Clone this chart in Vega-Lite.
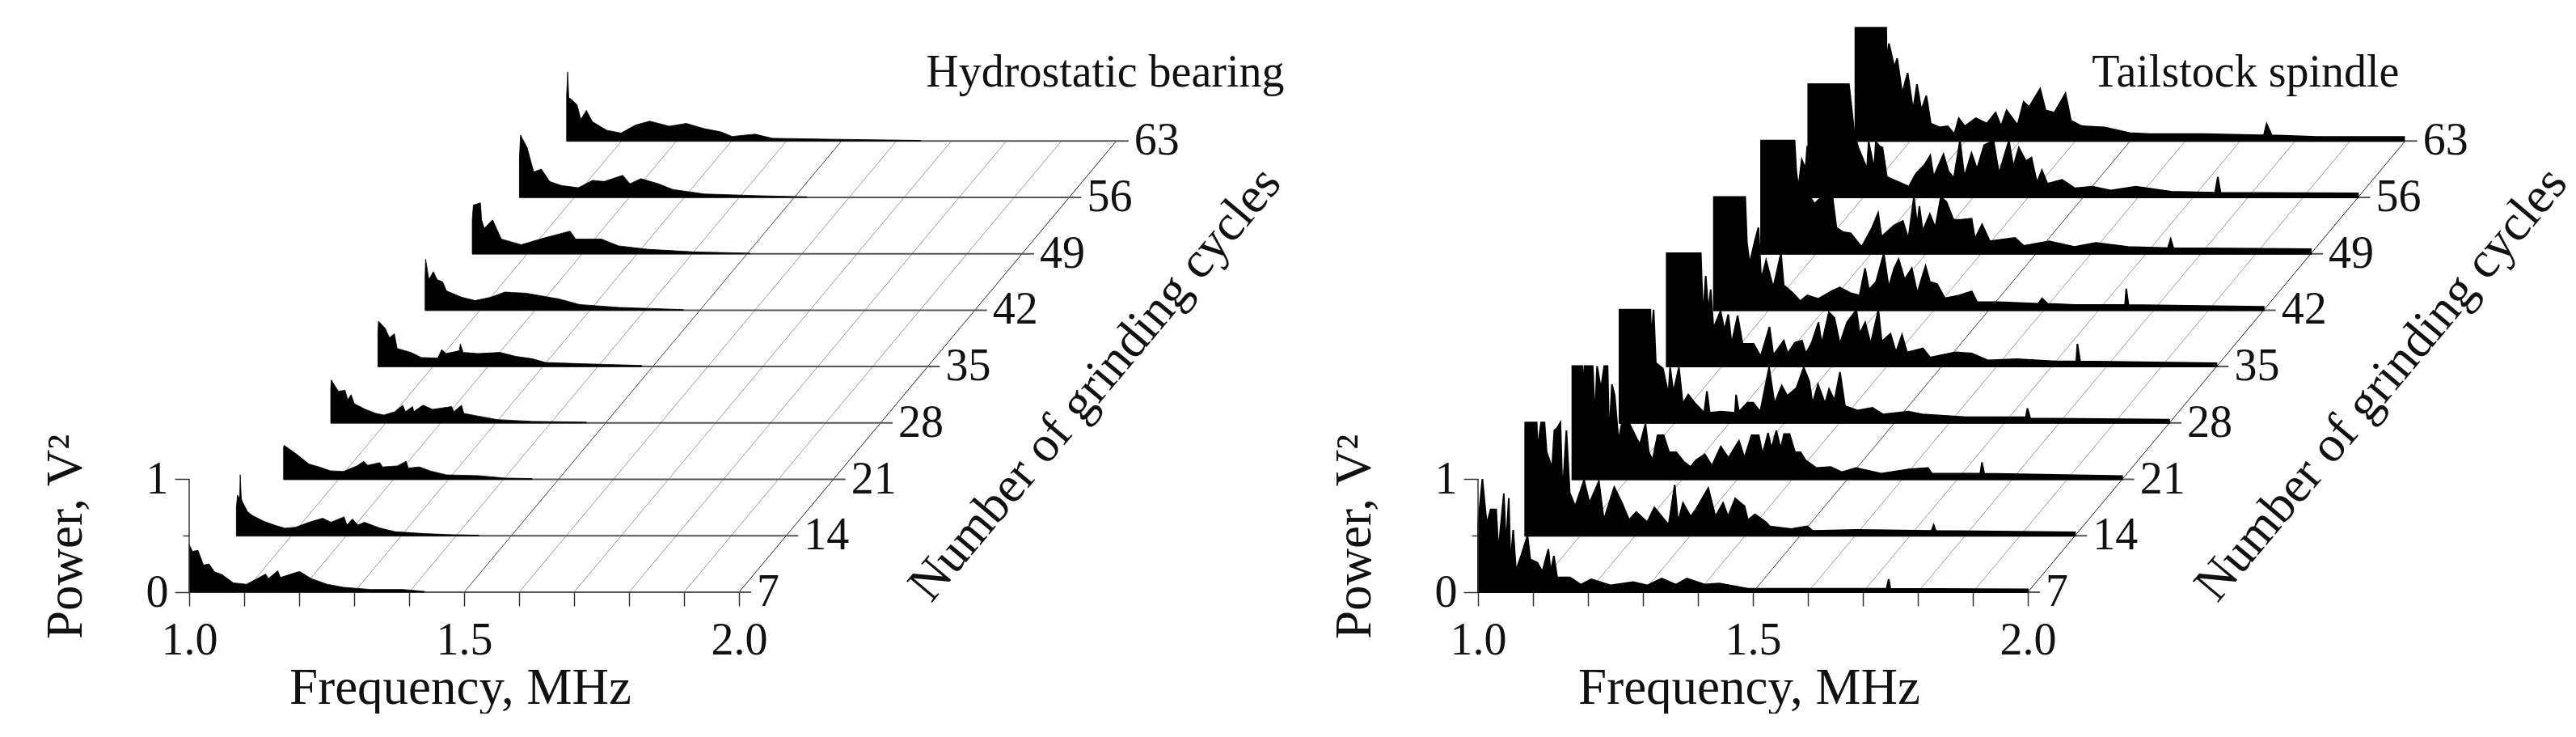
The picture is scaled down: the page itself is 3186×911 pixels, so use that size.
{"$schema":"https://vega.github.io/schema/vega-lite/v6.json","padding":{"left":50,"top":30,"right":0,"bottom":0},"background":"white","bounds":"flush","spacing":0,
"config":{"view":{"stroke":null},"text":{"font":"Liberation Serif","color":"#111"},"axis":{"labelFont":"Liberation Serif","titleFont":"Liberation Serif","labelFontSize":56,"titleFontSize":63,"titleFontWeight":"normal","labelColor":"#111","titleColor":"#111","tickColor":"#333","tickWidth":1.5,"domain":false,"grid":false}},
"datasets":{"spectra":[
{"s":"H","c":63,"f":1.0,"p":0.4},{"s":"H","c":63,"f":1.002,"p":0.61},{"s":"H","c":63,"f":1.004,"p":0.38},{"s":"H","c":63,"f":1.008,"p":0.37},{"s":"H","c":63,"f":1.019,"p":0.32},{"s":"H","c":63,"f":1.026,"p":0.19},{"s":"H","c":63,"f":1.036,"p":0.27},{"s":"H","c":63,"f":1.047,"p":0.17},{"s":"H","c":63,"f":1.073,"p":0.095},{"s":"H","c":63,"f":1.099,"p":0.07},{"s":"H","c":63,"f":1.125,"p":0.14},{"s":"H","c":63,"f":1.151,"p":0.175},{"s":"H","c":63,"f":1.187,"p":0.13},{"s":"H","c":63,"f":1.218,"p":0.155},{"s":"H","c":63,"f":1.249,"p":0.11},{"s":"H","c":63,"f":1.281,"p":0.08},{"s":"H","c":63,"f":1.301,"p":0.04},{"s":"H","c":63,"f":1.343,"p":0.06},{"s":"H","c":63,"f":1.374,"p":0.024},{"s":"H","c":63,"f":1.457,"p":0.017},{"s":"H","c":63,"f":1.644,"p":0.005},
{"s":"H","c":56,"f":1.0,"p":0.35},{"s":"H","c":56,"f":1.002,"p":0.55},{"s":"H","c":56,"f":1.014,"p":0.44},{"s":"H","c":56,"f":1.026,"p":0.225},{"s":"H","c":56,"f":1.04,"p":0.25},{"s":"H","c":56,"f":1.055,"p":0.14},{"s":"H","c":56,"f":1.076,"p":0.105},{"s":"H","c":56,"f":1.107,"p":0.085},{"s":"H","c":56,"f":1.133,"p":0.15},{"s":"H","c":56,"f":1.154,"p":0.14},{"s":"H","c":56,"f":1.188,"p":0.195},{"s":"H","c":56,"f":1.201,"p":0.12},{"s":"H","c":56,"f":1.221,"p":0.165},{"s":"H","c":56,"f":1.253,"p":0.12},{"s":"H","c":56,"f":1.279,"p":0.07},{"s":"H","c":56,"f":1.336,"p":0.03},{"s":"H","c":56,"f":1.44,"p":0.014},{"s":"H","c":56,"f":1.523,"p":0.005},
{"s":"H","c":49,"f":1.0,"p":0.3},{"s":"H","c":49,"f":1.002,"p":0.43},{"s":"H","c":49,"f":1.015,"p":0.45},{"s":"H","c":49,"f":1.017,"p":0.3},{"s":"H","c":49,"f":1.022,"p":0.225},{"s":"H","c":49,"f":1.037,"p":0.3},{"s":"H","c":49,"f":1.053,"p":0.13},{"s":"H","c":49,"f":1.089,"p":0.08},{"s":"H","c":49,"f":1.131,"p":0.14},{"s":"H","c":49,"f":1.178,"p":0.2},{"s":"H","c":49,"f":1.188,"p":0.13},{"s":"H","c":49,"f":1.235,"p":0.13},{"s":"H","c":49,"f":1.266,"p":0.07},{"s":"H","c":49,"f":1.318,"p":0.04},{"s":"H","c":49,"f":1.401,"p":0.017},{"s":"H","c":49,"f":1.505,"p":0.005},
{"s":"H","c":42,"f":1.0,"p":0.3},{"s":"H","c":42,"f":1.001,"p":0.45},{"s":"H","c":42,"f":1.007,"p":0.27},{"s":"H","c":42,"f":1.015,"p":0.34},{"s":"H","c":42,"f":1.022,"p":0.27},{"s":"H","c":42,"f":1.032,"p":0.25},{"s":"H","c":42,"f":1.039,"p":0.17},{"s":"H","c":42,"f":1.066,"p":0.115},{"s":"H","c":42,"f":1.091,"p":0.085},{"s":"H","c":42,"f":1.12,"p":0.115},{"s":"H","c":42,"f":1.145,"p":0.16},{"s":"H","c":42,"f":1.184,"p":0.15},{"s":"H","c":42,"f":1.213,"p":0.125},{"s":"H","c":42,"f":1.243,"p":0.1},{"s":"H","c":42,"f":1.281,"p":0.05},{"s":"H","c":42,"f":1.353,"p":0.024},{"s":"H","c":42,"f":1.47,"p":0.005},
{"s":"H","c":35,"f":1.0,"p":0.3},{"s":"H","c":35,"f":1.001,"p":0.4},{"s":"H","c":35,"f":1.013,"p":0.34},{"s":"H","c":35,"f":1.021,"p":0.255},{"s":"H","c":35,"f":1.03,"p":0.29},{"s":"H","c":35,"f":1.035,"p":0.16},{"s":"H","c":35,"f":1.06,"p":0.125},{"s":"H","c":35,"f":1.079,"p":0.08},{"s":"H","c":35,"f":1.109,"p":0.075},{"s":"H","c":35,"f":1.116,"p":0.15},{"s":"H","c":35,"f":1.124,"p":0.115},{"s":"H","c":35,"f":1.148,"p":0.14},{"s":"H","c":35,"f":1.15,"p":0.2},{"s":"H","c":35,"f":1.155,"p":0.125},{"s":"H","c":35,"f":1.182,"p":0.115},{"s":"H","c":35,"f":1.222,"p":0.125},{"s":"H","c":35,"f":1.251,"p":0.09},{"s":"H","c":35,"f":1.28,"p":0.07},{"s":"H","c":35,"f":1.305,"p":0.036},{"s":"H","c":35,"f":1.378,"p":0.024},{"s":"H","c":35,"f":1.48,"p":0.01},
{"s":"H","c":28,"f":1.0,"p":0.3},{"s":"H","c":28,"f":1.001,"p":0.38},{"s":"H","c":28,"f":1.014,"p":0.28},{"s":"H","c":28,"f":1.026,"p":0.29},{"s":"H","c":28,"f":1.031,"p":0.205},{"s":"H","c":28,"f":1.037,"p":0.25},{"s":"H","c":28,"f":1.043,"p":0.17},{"s":"H","c":28,"f":1.063,"p":0.12},{"s":"H","c":28,"f":1.082,"p":0.085},{"s":"H","c":28,"f":1.097,"p":0.07},{"s":"H","c":28,"f":1.117,"p":0.1},{"s":"H","c":28,"f":1.131,"p":0.157},{"s":"H","c":28,"f":1.136,"p":0.1},{"s":"H","c":28,"f":1.149,"p":0.145},{"s":"H","c":28,"f":1.151,"p":0.1},{"s":"H","c":28,"f":1.168,"p":0.157},{"s":"H","c":28,"f":1.185,"p":0.12},{"s":"H","c":28,"f":1.22,"p":0.145},{"s":"H","c":28,"f":1.224,"p":0.1},{"s":"H","c":28,"f":1.238,"p":0.157},{"s":"H","c":28,"f":1.242,"p":0.085},{"s":"H","c":28,"f":1.269,"p":0.06},{"s":"H","c":28,"f":1.303,"p":0.03},{"s":"H","c":28,"f":1.367,"p":0.014},{"s":"H","c":28,"f":1.465,"p":0.007},
{"s":"H","c":21,"f":1.0,"p":0.28},{"s":"H","c":21,"f":1.001,"p":0.3},{"s":"H","c":21,"f":1.016,"p":0.25},{"s":"H","c":21,"f":1.031,"p":0.195},{"s":"H","c":21,"f":1.046,"p":0.136},{"s":"H","c":21,"f":1.065,"p":0.11},{"s":"H","c":21,"f":1.085,"p":0.076},{"s":"H","c":21,"f":1.109,"p":0.07},{"s":"H","c":21,"f":1.134,"p":0.12},{"s":"H","c":21,"f":1.146,"p":0.16},{"s":"H","c":21,"f":1.153,"p":0.124},{"s":"H","c":21,"f":1.175,"p":0.148},{"s":"H","c":21,"f":1.18,"p":0.11},{"s":"H","c":21,"f":1.207,"p":0.119},{"s":"H","c":21,"f":1.223,"p":0.16},{"s":"H","c":21,"f":1.227,"p":0.1},{"s":"H","c":21,"f":1.247,"p":0.11},{"s":"H","c":21,"f":1.266,"p":0.076},{"s":"H","c":21,"f":1.296,"p":0.04},{"s":"H","c":21,"f":1.354,"p":0.033},{"s":"H","c":21,"f":1.403,"p":0.012},{"s":"H","c":21,"f":1.452,"p":0.007},
{"s":"H","c":14,"f":1.0,"p":0.25},{"s":"H","c":14,"f":1.002,"p":0.36},{"s":"H","c":14,"f":1.006,"p":0.33},{"s":"H","c":14,"f":1.007,"p":0.54},{"s":"H","c":14,"f":1.009,"p":0.33},{"s":"H","c":14,"f":1.011,"p":0.3},{"s":"H","c":14,"f":1.02,"p":0.214},{"s":"H","c":14,"f":1.029,"p":0.18},{"s":"H","c":14,"f":1.049,"p":0.13},{"s":"H","c":14,"f":1.069,"p":0.095},{"s":"H","c":14,"f":1.088,"p":0.067},{"s":"H","c":14,"f":1.108,"p":0.076},{"s":"H","c":14,"f":1.132,"p":0.119},{"s":"H","c":14,"f":1.157,"p":0.155},{"s":"H","c":14,"f":1.172,"p":0.12},{"s":"H","c":14,"f":1.196,"p":0.167},{"s":"H","c":14,"f":1.201,"p":0.095},{"s":"H","c":14,"f":1.211,"p":0.148},{"s":"H","c":14,"f":1.221,"p":0.095},{"s":"H","c":14,"f":1.233,"p":0.119},{"s":"H","c":14,"f":1.26,"p":0.07},{"s":"H","c":14,"f":1.289,"p":0.036},{"s":"H","c":14,"f":1.343,"p":0.019},{"s":"H","c":14,"f":1.392,"p":0.01},{"s":"H","c":14,"f":1.441,"p":0.005},
{"s":"H","c":7,"f":1.0,"p":0.42},{"s":"H","c":7,"f":1.006,"p":0.36},{"s":"H","c":7,"f":1.016,"p":0.37},{"s":"H","c":7,"f":1.026,"p":0.24},{"s":"H","c":7,"f":1.036,"p":0.25},{"s":"H","c":7,"f":1.046,"p":0.18},{"s":"H","c":7,"f":1.06,"p":0.155},{"s":"H","c":7,"f":1.08,"p":0.083},{"s":"H","c":7,"f":1.104,"p":0.07},{"s":"H","c":7,"f":1.119,"p":0.107},{"s":"H","c":7,"f":1.139,"p":0.16},{"s":"H","c":7,"f":1.144,"p":0.12},{"s":"H","c":7,"f":1.161,"p":0.19},{"s":"H","c":7,"f":1.166,"p":0.13},{"s":"H","c":7,"f":1.198,"p":0.18},{"s":"H","c":7,"f":1.202,"p":0.18},{"s":"H","c":7,"f":1.222,"p":0.12},{"s":"H","c":7,"f":1.251,"p":0.07},{"s":"H","c":7,"f":1.281,"p":0.043},{"s":"H","c":7,"f":1.33,"p":0.024},{"s":"H","c":7,"f":1.389,"p":0.024},{"s":"H","c":7,"f":1.428,"p":0.007},
{"s":"T","c":63,"f":1.0,"p":1},{"s":"T","c":63,"f":1.056,"p":1},{"s":"T","c":63,"f":1.057,"p":0.7},{"s":"T","c":63,"f":1.061,"p":0.86},{"s":"T","c":63,"f":1.071,"p":0.65},{"s":"T","c":63,"f":1.076,"p":0.73},{"s":"T","c":63,"f":1.085,"p":0.42},{"s":"T","c":63,"f":1.095,"p":0.6},{"s":"T","c":63,"f":1.105,"p":0.27},{"s":"T","c":63,"f":1.112,"p":0.5},{"s":"T","c":63,"f":1.12,"p":0.27},{"s":"T","c":63,"f":1.129,"p":0.4},{"s":"T","c":63,"f":1.137,"p":0.155},{"s":"T","c":63,"f":1.153,"p":0.12},{"s":"T","c":63,"f":1.168,"p":0.13},{"s":"T","c":63,"f":1.18,"p":0.06},{"s":"T","c":63,"f":1.188,"p":0.2},{"s":"T","c":63,"f":1.199,"p":0.13},{"s":"T","c":63,"f":1.219,"p":0.2},{"s":"T","c":63,"f":1.239,"p":0.155},{"s":"T","c":63,"f":1.255,"p":0.25},{"s":"T","c":63,"f":1.265,"p":0.13},{"s":"T","c":63,"f":1.275,"p":0.27},{"s":"T","c":63,"f":1.295,"p":0.14},{"s":"T","c":63,"f":1.306,"p":0.345},{"s":"T","c":63,"f":1.316,"p":0.3},{"s":"T","c":63,"f":1.336,"p":0.46},{"s":"T","c":63,"f":1.346,"p":0.27},{"s":"T","c":63,"f":1.362,"p":0.25},{"s":"T","c":63,"f":1.382,"p":0.42},{"s":"T","c":63,"f":1.392,"p":0.18},{"s":"T","c":63,"f":1.412,"p":0.13},{"s":"T","c":63,"f":1.453,"p":0.12},{"s":"T","c":63,"f":1.499,"p":0.07},{"s":"T","c":63,"f":1.535,"p":0.06},{"s":"T","c":63,"f":1.636,"p":0.06},{"s":"T","c":63,"f":1.743,"p":0.05},{"s":"T","c":63,"f":1.748,"p":0.15},{"s":"T","c":63,"f":1.757,"p":0.05},{"s":"T","c":63,"f":1.84,"p":0.036},{"s":"T","c":63,"f":1.998,"p":0.036},
{"s":"T","c":56,"f":1.0,"p":1},{"s":"T","c":56,"f":1.074,"p":1},{"s":"T","c":56,"f":1.084,"p":0.56},{"s":"T","c":56,"f":1.091,"p":0.44},{"s":"T","c":56,"f":1.107,"p":0.25},{"s":"T","c":56,"f":1.11,"p":0.49},{"s":"T","c":56,"f":1.12,"p":0.25},{"s":"T","c":56,"f":1.123,"p":0.49},{"s":"T","c":56,"f":1.13,"p":0.45},{"s":"T","c":56,"f":1.135,"p":0.44},{"s":"T","c":56,"f":1.143,"p":0.18},{"s":"T","c":56,"f":1.183,"p":0.095},{"s":"T","c":56,"f":1.196,"p":0.21},{"s":"T","c":56,"f":1.212,"p":0.29},{"s":"T","c":56,"f":1.222,"p":0.37},{"s":"T","c":56,"f":1.228,"p":0.18},{"s":"T","c":56,"f":1.246,"p":0.38},{"s":"T","c":56,"f":1.255,"p":0.23},{"s":"T","c":56,"f":1.265,"p":0.17},{"s":"T","c":56,"f":1.276,"p":0.5},{"s":"T","c":56,"f":1.284,"p":0.18},{"s":"T","c":56,"f":1.297,"p":0.39},{"s":"T","c":56,"f":1.307,"p":0.25},{"s":"T","c":56,"f":1.32,"p":0.46},{"s":"T","c":56,"f":1.337,"p":0.5},{"s":"T","c":56,"f":1.347,"p":0.21},{"s":"T","c":56,"f":1.36,"p":0.42},{"s":"T","c":56,"f":1.365,"p":0.5},{"s":"T","c":56,"f":1.373,"p":0.27},{"s":"T","c":56,"f":1.383,"p":0.44},{"s":"T","c":56,"f":1.396,"p":0.32},{"s":"T","c":56,"f":1.406,"p":0.35},{"s":"T","c":56,"f":1.416,"p":0.13},{"s":"T","c":56,"f":1.425,"p":0.24},{"s":"T","c":56,"f":1.435,"p":0.12},{"s":"T","c":56,"f":1.462,"p":0.155},{"s":"T","c":56,"f":1.485,"p":0.08},{"s":"T","c":56,"f":1.517,"p":0.095},{"s":"T","c":56,"f":1.55,"p":0.06},{"s":"T","c":56,"f":1.596,"p":0.095},{"s":"T","c":56,"f":1.66,"p":0.05},{"s":"T","c":56,"f":1.74,"p":0.04},{"s":"T","c":56,"f":1.745,"p":0.18},{"s":"T","c":56,"f":1.75,"p":0.04},{"s":"T","c":56,"f":2.0,"p":0.035},
{"s":"T","c":49,"f":1.0,"p":1},{"s":"T","c":49,"f":1.059,"p":1},{"s":"T","c":49,"f":1.061,"p":1},{"s":"T","c":49,"f":1.064,"p":0.73},{"s":"T","c":49,"f":1.068,"p":0.58},{"s":"T","c":49,"f":1.074,"p":0.83},{"s":"T","c":49,"f":1.081,"p":0.75},{"s":"T","c":49,"f":1.084,"p":0.95},{"s":"T","c":49,"f":1.091,"p":0.49},{"s":"T","c":49,"f":1.097,"p":0.44},{"s":"T","c":49,"f":1.11,"p":0.5},{"s":"T","c":49,"f":1.13,"p":0.5},{"s":"T","c":49,"f":1.137,"p":0.23},{"s":"T","c":49,"f":1.15,"p":0.19},{"s":"T","c":49,"f":1.163,"p":0.18},{"s":"T","c":49,"f":1.183,"p":0.06},{"s":"T","c":49,"f":1.202,"p":0.23},{"s":"T","c":49,"f":1.213,"p":0.36},{"s":"T","c":49,"f":1.219,"p":0.15},{"s":"T","c":49,"f":1.242,"p":0.25},{"s":"T","c":49,"f":1.258,"p":0.29},{"s":"T","c":49,"f":1.268,"p":0.13},{"s":"T","c":49,"f":1.278,"p":0.5},{"s":"T","c":49,"f":1.284,"p":0.25},{"s":"T","c":49,"f":1.288,"p":0.42},{"s":"T","c":49,"f":1.294,"p":0.2},{"s":"T","c":49,"f":1.307,"p":0.35},{"s":"T","c":49,"f":1.317,"p":0.23},{"s":"T","c":49,"f":1.327,"p":0.5},{"s":"T","c":49,"f":1.337,"p":0.46},{"s":"T","c":49,"f":1.35,"p":0.3},{"s":"T","c":49,"f":1.363,"p":0.3},{"s":"T","c":49,"f":1.383,"p":0.31},{"s":"T","c":49,"f":1.389,"p":0.13},{"s":"T","c":49,"f":1.402,"p":0.26},{"s":"T","c":49,"f":1.416,"p":0.11},{"s":"T","c":49,"f":1.462,"p":0.14},{"s":"T","c":49,"f":1.478,"p":0.07},{"s":"T","c":49,"f":1.524,"p":0.11},{"s":"T","c":49,"f":1.57,"p":0.06},{"s":"T","c":49,"f":1.609,"p":0.095},{"s":"T","c":49,"f":1.668,"p":0.06},{"s":"T","c":49,"f":1.74,"p":0.05},{"s":"T","c":49,"f":1.745,"p":0.13},{"s":"T","c":49,"f":1.75,"p":0.05},{"s":"T","c":49,"f":2.0,"p":0.04},
{"s":"T","c":42,"f":1.0,"p":1},{"s":"T","c":42,"f":1.057,"p":1},{"s":"T","c":42,"f":1.06,"p":0.6},{"s":"T","c":42,"f":1.065,"p":0.41},{"s":"T","c":42,"f":1.075,"p":0.62},{"s":"T","c":42,"f":1.081,"p":0.73},{"s":"T","c":42,"f":1.086,"p":0.27},{"s":"T","c":42,"f":1.095,"p":0.44},{"s":"T","c":42,"f":1.108,"p":0.2},{"s":"T","c":42,"f":1.122,"p":0.5},{"s":"T","c":42,"f":1.127,"p":0.22},{"s":"T","c":42,"f":1.144,"p":0.15},{"s":"T","c":42,"f":1.157,"p":0.08},{"s":"T","c":42,"f":1.17,"p":0.13},{"s":"T","c":42,"f":1.19,"p":0.1},{"s":"T","c":42,"f":1.213,"p":0.165},{"s":"T","c":42,"f":1.229,"p":0.2},{"s":"T","c":42,"f":1.249,"p":0.15},{"s":"T","c":42,"f":1.265,"p":0.13},{"s":"T","c":42,"f":1.275,"p":0.37},{"s":"T","c":42,"f":1.282,"p":0.18},{"s":"T","c":42,"f":1.295,"p":0.25},{"s":"T","c":42,"f":1.309,"p":0.5},{"s":"T","c":42,"f":1.318,"p":0.2},{"s":"T","c":42,"f":1.328,"p":0.37},{"s":"T","c":42,"f":1.336,"p":0.45},{"s":"T","c":42,"f":1.347,"p":0.27},{"s":"T","c":42,"f":1.36,"p":0.37},{"s":"T","c":42,"f":1.37,"p":0.15},{"s":"T","c":42,"f":1.385,"p":0.39},{"s":"T","c":42,"f":1.393,"p":0.25},{"s":"T","c":42,"f":1.406,"p":0.23},{"s":"T","c":42,"f":1.42,"p":0.105},{"s":"T","c":42,"f":1.446,"p":0.13},{"s":"T","c":42,"f":1.469,"p":0.165},{"s":"T","c":42,"f":1.479,"p":0.07},{"s":"T","c":42,"f":1.518,"p":0.07},{"s":"T","c":42,"f":1.59,"p":0.057},{"s":"T","c":42,"f":1.597,"p":0.105},{"s":"T","c":42,"f":1.607,"p":0.057},{"s":"T","c":42,"f":1.656,"p":0.045},{"s":"T","c":42,"f":1.748,"p":0.045},{"s":"T","c":42,"f":1.75,"p":0.19},{"s":"T","c":42,"f":1.754,"p":0.045},{"s":"T","c":42,"f":2.0,"p":0.03},
{"s":"T","c":35,"f":1.0,"p":1},{"s":"T","c":35,"f":1.062,"p":1},{"s":"T","c":35,"f":1.066,"p":0.44},{"s":"T","c":35,"f":1.071,"p":0.8},{"s":"T","c":35,"f":1.076,"p":0.48},{"s":"T","c":35,"f":1.08,"p":0.68},{"s":"T","c":35,"f":1.085,"p":0.34},{"s":"T","c":35,"f":1.098,"p":0.49},{"s":"T","c":35,"f":1.105,"p":0.32},{"s":"T","c":35,"f":1.112,"p":0.46},{"s":"T","c":35,"f":1.118,"p":0.2},{"s":"T","c":35,"f":1.129,"p":0.45},{"s":"T","c":35,"f":1.138,"p":0.2},{"s":"T","c":35,"f":1.158,"p":0.2},{"s":"T","c":35,"f":1.171,"p":0.09},{"s":"T","c":35,"f":1.187,"p":0.35},{"s":"T","c":35,"f":1.194,"p":0.1},{"s":"T","c":35,"f":1.213,"p":0.23},{"s":"T","c":35,"f":1.22,"p":0.115},{"s":"T","c":35,"f":1.233,"p":0.21},{"s":"T","c":35,"f":1.246,"p":0.23},{"s":"T","c":35,"f":1.253,"p":0.115},{"s":"T","c":35,"f":1.263,"p":0.2},{"s":"T","c":35,"f":1.276,"p":0.39},{"s":"T","c":35,"f":1.282,"p":0.2},{"s":"T","c":35,"f":1.295,"p":0.48},{"s":"T","c":35,"f":1.305,"p":0.43},{"s":"T","c":35,"f":1.315,"p":0.2},{"s":"T","c":35,"f":1.328,"p":0.39},{"s":"T","c":35,"f":1.345,"p":0.5},{"s":"T","c":35,"f":1.351,"p":0.29},{"s":"T","c":35,"f":1.361,"p":0.39},{"s":"T","c":35,"f":1.371,"p":0.2},{"s":"T","c":35,"f":1.385,"p":0.5},{"s":"T","c":35,"f":1.391,"p":0.22},{"s":"T","c":35,"f":1.407,"p":0.29},{"s":"T","c":35,"f":1.417,"p":0.125},{"s":"T","c":35,"f":1.428,"p":0.28},{"s":"T","c":35,"f":1.437,"p":0.125},{"s":"T","c":35,"f":1.466,"p":0.16},{"s":"T","c":35,"f":1.479,"p":0.08},{"s":"T","c":35,"f":1.525,"p":0.125},{"s":"T","c":35,"f":1.555,"p":0.115},{"s":"T","c":35,"f":1.584,"p":0.055},{"s":"T","c":35,"f":1.637,"p":0.065},{"s":"T","c":35,"f":1.709,"p":0.045},{"s":"T","c":35,"f":1.745,"p":0.045},{"s":"T","c":35,"f":1.747,"p":0.2},{"s":"T","c":35,"f":1.752,"p":0.045},{"s":"T","c":35,"f":2.0,"p":0.03},
{"s":"T","c":28,"f":1.0,"p":1},{"s":"T","c":28,"f":1.056,"p":1},{"s":"T","c":28,"f":1.058,"p":0.75},{"s":"T","c":28,"f":1.062,"p":1},{"s":"T","c":28,"f":1.066,"p":0.53},{"s":"T","c":28,"f":1.079,"p":0.48},{"s":"T","c":28,"f":1.089,"p":0.25},{"s":"T","c":28,"f":1.092,"p":0.49},{"s":"T","c":28,"f":1.098,"p":0.27},{"s":"T","c":28,"f":1.108,"p":0.49},{"s":"T","c":28,"f":1.115,"p":0.17},{"s":"T","c":28,"f":1.125,"p":0.25},{"s":"T","c":28,"f":1.138,"p":0.17},{"s":"T","c":28,"f":1.154,"p":0.09},{"s":"T","c":28,"f":1.159,"p":0.28},{"s":"T","c":28,"f":1.164,"p":0.09},{"s":"T","c":28,"f":1.184,"p":0.1},{"s":"T","c":28,"f":1.21,"p":0.09},{"s":"T","c":28,"f":1.212,"p":0.25},{"s":"T","c":28,"f":1.217,"p":0.1},{"s":"T","c":28,"f":1.233,"p":0.18},{"s":"T","c":28,"f":1.243,"p":0.18},{"s":"T","c":28,"f":1.256,"p":0.1},{"s":"T","c":28,"f":1.272,"p":0.49},{"s":"T","c":28,"f":1.282,"p":0.17},{"s":"T","c":28,"f":1.295,"p":0.33},{"s":"T","c":28,"f":1.305,"p":0.24},{"s":"T","c":28,"f":1.322,"p":0.31},{"s":"T","c":28,"f":1.335,"p":0.49},{"s":"T","c":28,"f":1.345,"p":0.37},{"s":"T","c":28,"f":1.351,"p":0.17},{"s":"T","c":28,"f":1.361,"p":0.34},{"s":"T","c":28,"f":1.374,"p":0.17},{"s":"T","c":28,"f":1.381,"p":0.3},{"s":"T","c":28,"f":1.391,"p":0.2},{"s":"T","c":28,"f":1.401,"p":0.45},{"s":"T","c":28,"f":1.41,"p":0.15},{"s":"T","c":28,"f":1.433,"p":0.11},{"s":"T","c":28,"f":1.46,"p":0.135},{"s":"T","c":28,"f":1.479,"p":0.076},{"s":"T","c":28,"f":1.525,"p":0.1},{"s":"T","c":28,"f":1.551,"p":0.076},{"s":"T","c":28,"f":1.63,"p":0.05},{"s":"T","c":28,"f":1.739,"p":0.05},{"s":"T","c":28,"f":1.742,"p":0.13},{"s":"T","c":28,"f":1.747,"p":0.04},{"s":"T","c":28,"f":2.0,"p":0.03},
{"s":"T","c":21,"f":1.0,"p":1},{"s":"T","c":21,"f":1.018,"p":1},{"s":"T","c":21,"f":1.02,"p":0.79},{"s":"T","c":21,"f":1.022,"p":1},{"s":"T","c":21,"f":1.037,"p":1},{"s":"T","c":21,"f":1.041,"p":0.53},{"s":"T","c":21,"f":1.045,"p":1},{"s":"T","c":21,"f":1.052,"p":0.8},{"s":"T","c":21,"f":1.058,"p":1},{"s":"T","c":21,"f":1.064,"p":1},{"s":"T","c":21,"f":1.067,"p":0.35},{"s":"T","c":21,"f":1.072,"p":0.84},{"s":"T","c":21,"f":1.077,"p":0.74},{"s":"T","c":21,"f":1.084,"p":0.34},{"s":"T","c":21,"f":1.094,"p":0.6},{"s":"T","c":21,"f":1.103,"p":0.5},{"s":"T","c":21,"f":1.117,"p":0.36},{"s":"T","c":21,"f":1.123,"p":0.31},{"s":"T","c":21,"f":1.133,"p":0.49},{"s":"T","c":21,"f":1.139,"p":0.24},{"s":"T","c":21,"f":1.146,"p":0.17},{"s":"T","c":21,"f":1.155,"p":0.39},{"s":"T","c":21,"f":1.166,"p":0.39},{"s":"T","c":21,"f":1.176,"p":0.24},{"s":"T","c":21,"f":1.189,"p":0.24},{"s":"T","c":21,"f":1.202,"p":0.16},{"s":"T","c":21,"f":1.215,"p":0.11},{"s":"T","c":21,"f":1.225,"p":0.17},{"s":"T","c":21,"f":1.241,"p":0.22},{"s":"T","c":21,"f":1.254,"p":0.12},{"s":"T","c":21,"f":1.27,"p":0.29},{"s":"T","c":21,"f":1.284,"p":0.19},{"s":"T","c":21,"f":1.303,"p":0.34},{"s":"T","c":21,"f":1.313,"p":0.19},{"s":"T","c":21,"f":1.326,"p":0.39},{"s":"T","c":21,"f":1.339,"p":0.39},{"s":"T","c":21,"f":1.346,"p":0.22},{"s":"T","c":21,"f":1.356,"p":0.41},{"s":"T","c":21,"f":1.362,"p":0.27},{"s":"T","c":21,"f":1.371,"p":0.43},{"s":"T","c":21,"f":1.379,"p":0.27},{"s":"T","c":21,"f":1.385,"p":0.4},{"s":"T","c":21,"f":1.395,"p":0.4},{"s":"T","c":21,"f":1.405,"p":0.24},{"s":"T","c":21,"f":1.415,"p":0.24},{"s":"T","c":21,"f":1.424,"p":0.17},{"s":"T","c":21,"f":1.444,"p":0.1},{"s":"T","c":21,"f":1.47,"p":0.11},{"s":"T","c":21,"f":1.49,"p":0.064},{"s":"T","c":21,"f":1.516,"p":0.1},{"s":"T","c":21,"f":1.562,"p":0.05},{"s":"T","c":21,"f":1.614,"p":0.09},{"s":"T","c":21,"f":1.647,"p":0.1},{"s":"T","c":21,"f":1.654,"p":0.05},{"s":"T","c":21,"f":1.742,"p":0.05},{"s":"T","c":21,"f":1.745,"p":0.15},{"s":"T","c":21,"f":1.749,"p":0.05},{"s":"T","c":21,"f":2.0,"p":0.03},
{"s":"T","c":14,"f":1.0,"p":1},{"s":"T","c":14,"f":1.021,"p":1},{"s":"T","c":14,"f":1.022,"p":0.76},{"s":"T","c":14,"f":1.029,"p":1},{"s":"T","c":14,"f":1.035,"p":1},{"s":"T","c":14,"f":1.039,"p":0.74},{"s":"T","c":14,"f":1.044,"p":0.67},{"s":"T","c":14,"f":1.049,"p":0.6},{"s":"T","c":14,"f":1.053,"p":0.93},{"s":"T","c":14,"f":1.058,"p":0.95},{"s":"T","c":14,"f":1.064,"p":1},{"s":"T","c":14,"f":1.068,"p":0.36},{"s":"T","c":14,"f":1.075,"p":0.93},{"s":"T","c":14,"f":1.081,"p":0.38},{"s":"T","c":14,"f":1.091,"p":0.26},{"s":"T","c":14,"f":1.107,"p":0.49},{"s":"T","c":14,"f":1.117,"p":0.29},{"s":"T","c":14,"f":1.134,"p":0.48},{"s":"T","c":14,"f":1.143,"p":0.14},{"s":"T","c":14,"f":1.162,"p":0.43},{"s":"T","c":14,"f":1.176,"p":0.29},{"s":"T","c":14,"f":1.189,"p":0.14},{"s":"T","c":14,"f":1.202,"p":0.21},{"s":"T","c":14,"f":1.222,"p":0.12},{"s":"T","c":14,"f":1.235,"p":0.25},{"s":"T","c":14,"f":1.261,"p":0.095},{"s":"T","c":14,"f":1.272,"p":0.45},{"s":"T","c":14,"f":1.278,"p":0.12},{"s":"T","c":14,"f":1.287,"p":0.29},{"s":"T","c":14,"f":1.301,"p":0.17},{"s":"T","c":14,"f":1.31,"p":0.23},{"s":"T","c":14,"f":1.333,"p":0.42},{"s":"T","c":14,"f":1.346,"p":0.17},{"s":"T","c":14,"f":1.36,"p":0.29},{"s":"T","c":14,"f":1.369,"p":0.17},{"s":"T","c":14,"f":1.382,"p":0.33},{"s":"T","c":14,"f":1.399,"p":0.26},{"s":"T","c":14,"f":1.405,"p":0.14},{"s":"T","c":14,"f":1.418,"p":0.19},{"s":"T","c":14,"f":1.438,"p":0.12},{"s":"T","c":14,"f":1.445,"p":0.083},{"s":"T","c":14,"f":1.484,"p":0.06},{"s":"T","c":14,"f":1.513,"p":0.083},{"s":"T","c":14,"f":1.523,"p":0.043},{"s":"T","c":14,"f":1.602,"p":0.052},{"s":"T","c":14,"f":1.739,"p":0.043},{"s":"T","c":14,"f":1.743,"p":0.095},{"s":"T","c":14,"f":1.747,"p":0.043},{"s":"T","c":14,"f":2.0,"p":0.03},
{"s":"T","c":7,"f":1.0,"p":0.6},{"s":"T","c":7,"f":1.008,"p":1},{"s":"T","c":7,"f":1.012,"p":0.79},{"s":"T","c":7,"f":1.016,"p":0.6},{"s":"T","c":7,"f":1.023,"p":0.73},{"s":"T","c":7,"f":1.033,"p":0.73},{"s":"T","c":7,"f":1.037,"p":0.36},{"s":"T","c":7,"f":1.047,"p":0.87},{"s":"T","c":7,"f":1.051,"p":0.4},{"s":"T","c":7,"f":1.056,"p":0.83},{"s":"T","c":7,"f":1.059,"p":0.24},{"s":"T","c":7,"f":1.064,"p":0.55},{"s":"T","c":7,"f":1.069,"p":0.19},{"s":"T","c":7,"f":1.079,"p":0.33},{"s":"T","c":7,"f":1.09,"p":0.5},{"s":"T","c":7,"f":1.095,"p":0.29},{"s":"T","c":7,"f":1.108,"p":0.26},{"s":"T","c":7,"f":1.117,"p":0.18},{"s":"T","c":7,"f":1.128,"p":0.38},{"s":"T","c":7,"f":1.132,"p":0.18},{"s":"T","c":7,"f":1.138,"p":0.32},{"s":"T","c":7,"f":1.144,"p":0.13},{"s":"T","c":7,"f":1.167,"p":0.13},{"s":"T","c":7,"f":1.187,"p":0.067},{"s":"T","c":7,"f":1.206,"p":0.114},{"s":"T","c":7,"f":1.242,"p":0.06},{"s":"T","c":7,"f":1.282,"p":0.09},{"s":"T","c":7,"f":1.308,"p":0.06},{"s":"T","c":7,"f":1.334,"p":0.12},{"s":"T","c":7,"f":1.36,"p":0.067},{"s":"T","c":7,"f":1.38,"p":0.12},{"s":"T","c":7,"f":1.413,"p":0.067},{"s":"T","c":7,"f":1.439,"p":0.076},{"s":"T","c":7,"f":1.491,"p":0.03},{"s":"T","c":7,"f":1.622,"p":0.03},{"s":"T","c":7,"f":1.743,"p":0.03},{"s":"T","c":7,"f":1.747,"p":0.114},{"s":"T","c":7,"f":1.75,"p":0.03},{"s":"T","c":7,"f":2.0,"p":0.025}
],
"grid":[{"f":1.1,"c":7},{"f":1.1,"c":63},{"f":1.2,"c":7},{"f":1.2,"c":63},{"f":1.3,"c":7},{"f":1.3,"c":63},{"f":1.4,"c":7},{"f":1.4,"c":63},{"f":1.5,"c":7},{"f":1.5,"c":63},{"f":1.6,"c":7},{"f":1.6,"c":63},{"f":1.7,"c":7},{"f":1.7,"c":63},{"f":1.8,"c":7},{"f":1.8,"c":63},{"f":1.9,"c":7},{"f":1.9,"c":63},{"f":2.0,"c":7},{"f":2.0,"c":63}],
"base":[{"c":7,"f":1.0},{"c":7,"f":2.022},{"c":14,"f":1.0},{"c":14,"f":2.022},{"c":21,"f":1.0},{"c":21,"f":2.022},{"c":28,"f":1.0},{"c":28,"f":2.022},{"c":35,"f":1.0},{"c":35,"f":2.022},{"c":42,"f":1.0},{"c":42,"f":2.022},{"c":49,"f":1.0},{"c":49,"f":2.022},{"c":56,"f":1.0},{"c":56,"f":2.022},{"c":63,"f":1.0},{"c":63,"f":2.022}],
"cyc":[{"c":7},{"c":14},{"c":21},{"c":28},{"c":35},{"c":42},{"c":49},{"c":56},{"c":63}]},
"hconcat":[
{"width":1594,"height":700,"layer":[
{"data":{"name":"grid"},"transform":[{"calculate":"datum.f+(datum.c-7)/7*0.0858","as":"X"},{"calculate":"(datum.c-7)/7*0.498","as":"Y"}],"mark":{"type":"line","strokeWidth":1},"encoding":{"x":{"field":"X","type":"quantitative","scale":{"domain":[1,3.34412],"nice":false,"zero":false},"axis":{"values":[1,1.1,1.2,1.3,1.4,1.5,1.6,1.7,1.8,1.9,2],"tickSize":17,"labelPadding":15,"title":"Frequency, MHz","titleX":335,"titleY":118,"titleBaseline":"middle","labelExpr":"(datum.value==1||datum.value==1.5||datum.value==2)?format(datum.value,'.1f'):''","labelOverlap":false,"labelBound":false,"labelFlush":false}},"y":{"field":"Y","type":"quantitative","scale":{"domain":[0,5],"nice":false},"axis":{"values":[0,0.5,1],"tickSize":{"expr":"datum.value==0.5?8:18"},"labelPadding":8,"title":"Power, V²","titleX":-153,"titleY":631,"titleAngle":-90,"titleBaseline":"middle","labelExpr":"datum.value==0.5?'':format(datum.value,'d')"}},"color":{"field":"f","type":"nominal","legend":null,"scale":{"domain":[1.1,1.2,1.3,1.4,1.5,1.6,1.7,1.8,1.9,2],"range":["#999","#999","#999","#999","#444","#999","#999","#999","#999","#222"]}},"detail":{"field":"f"},"order":{"field":"c"}}},
{"data":{"name":"base"},"transform":[{"calculate":"datum.f+(datum.c-7)/7*0.0858","as":"X"},{"calculate":"(datum.c-7)/7*0.498","as":"Y"}],"mark":{"type":"line","strokeWidth":2,"color":"#555"},"encoding":{"x":{"field":"X","type":"quantitative"},"y":{"field":"Y","type":"quantitative"},"detail":{"field":"c"}}},
{"data":{"name":"spectra"},"transform":[{"filter":"datum.s=='H'"},{"calculate":"datum.f+(datum.c-7)/7*0.0858","as":"X"},{"calculate":"(datum.c-7)/7*0.498","as":"Y0"},{"calculate":"datum.p+datum.Y0","as":"Y"}],"mark":{"type":"area","color":"black","stroke":"black","strokeWidth":0.8},"encoding":{"x":{"field":"X","type":"quantitative"},"y":{"field":"Y","type":"quantitative"},"y2":{"field":"Y0"},"detail":{"field":"c"}}},
{"data":{"values":[{}]},"mark":{"type":"rule","color":"#333","strokeWidth":1.5},"encoding":{"x":{"datum":1},"y":{"datum":0},"y2":{"datum":1}}},
{"data":{"name":"cyc"},"transform":[{"calculate":"2+(datum.c-7)/7*0.0858","as":"X"},{"calculate":"(datum.c-7)/7*0.498","as":"Y"}],"mark":{"type":"text","align":"left","baseline":"middle","dx":22,"fontSize":56},"encoding":{"x":{"field":"X","type":"quantitative"},"y":{"field":"Y","type":"quantitative"},"text":{"field":"c"}}},
{"data":{"values":[{}]},"mark":{"type":"text","fontSize":56,"baseline":"middle"},"encoding":{"x":{"datum":2.666},"y":{"datum":4.586},"text":{"value":"Hydrostatic bearing"}}},
{"data":{"values":[{}]},"mark":{"type":"text","fontSize":63,"baseline":"middle","angle":-50},"encoding":{"x":{"datum":2.648},"y":{"datum":1.836},"text":{"value":"Number of grinding cycles"}}}
]},
{"width":1340,"height":700,"layer":[
{"data":{"name":"grid"},"transform":[{"calculate":"datum.f+(datum.c-7)/7*0.0858","as":"X"},{"calculate":"(datum.c-7)/7*0.498","as":"Y"}],"mark":{"type":"line","strokeWidth":1},"encoding":{"x":{"field":"X","type":"quantitative","scale":{"domain":[1,2.97059],"nice":false,"zero":false},"axis":{"values":[1,1.1,1.2,1.3,1.4,1.5,1.6,1.7,1.8,1.9,2],"tickSize":17,"labelPadding":15,"title":"Frequency, MHz","titleX":335,"titleY":118,"titleBaseline":"middle","labelExpr":"(datum.value==1||datum.value==1.5||datum.value==2)?format(datum.value,'.1f'):''","labelOverlap":false,"labelBound":false,"labelFlush":false}},"y":{"field":"Y","type":"quantitative","scale":{"domain":[0,5],"nice":false},"axis":{"values":[0,0.5,1],"tickSize":{"expr":"datum.value==0.5?8:18"},"labelPadding":8,"title":"Power, V²","titleX":-153,"titleY":631,"titleAngle":-90,"titleBaseline":"middle","labelExpr":"datum.value==0.5?'':format(datum.value,'d')"}},"color":{"field":"f","type":"nominal","legend":null,"scale":{"domain":[1.1,1.2,1.3,1.4,1.5,1.6,1.7,1.8,1.9,2],"range":["#999","#999","#999","#999","#444","#999","#999","#999","#999","#222"]}},"detail":{"field":"f"},"order":{"field":"c"}}},
{"data":{"name":"base"},"transform":[{"calculate":"datum.f+(datum.c-7)/7*0.0858","as":"X"},{"calculate":"(datum.c-7)/7*0.498","as":"Y"}],"mark":{"type":"line","strokeWidth":2,"color":"#555"},"encoding":{"x":{"field":"X","type":"quantitative"},"y":{"field":"Y","type":"quantitative"},"detail":{"field":"c"}}},
{"data":{"name":"spectra"},"transform":[{"filter":"datum.s=='T'"},{"calculate":"datum.f+(datum.c-7)/7*0.0858","as":"X"},{"calculate":"(datum.c-7)/7*0.498","as":"Y0"},{"calculate":"datum.p+datum.Y0","as":"Y"}],"mark":{"type":"area","color":"black","stroke":"black","strokeWidth":2},"encoding":{"x":{"field":"X","type":"quantitative"},"y":{"field":"Y","type":"quantitative"},"y2":{"field":"Y0"},"detail":{"field":"c"}}},
{"data":{"values":[{}]},"mark":{"type":"rule","color":"#333","strokeWidth":1.5},"encoding":{"x":{"datum":1},"y":{"datum":0},"y2":{"datum":1}}},
{"data":{"name":"cyc"},"transform":[{"calculate":"2+(datum.c-7)/7*0.0858","as":"X"},{"calculate":"(datum.c-7)/7*0.498","as":"Y"}],"mark":{"type":"text","align":"left","baseline":"middle","dx":22,"fontSize":56},"encoding":{"x":{"field":"X","type":"quantitative"},"y":{"field":"Y","type":"quantitative"},"text":{"field":"c"}}},
{"data":{"values":[{}]},"mark":{"type":"text","fontSize":56,"baseline":"middle"},"encoding":{"x":{"datum":2.396},"y":{"datum":4.586},"text":{"value":"Tailstock spindle"}}},
{"data":{"values":[{}]},"mark":{"type":"text","fontSize":63,"baseline":"middle","angle":-50},"encoding":{"x":{"datum":2.643},"y":{"datum":1.836},"text":{"value":"Number of grinding cycles"}}}
]}
]}
